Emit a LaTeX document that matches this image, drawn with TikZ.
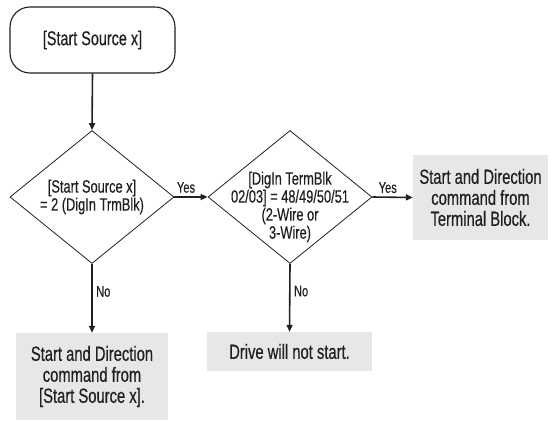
\documentclass[tikz,border=0pt]{standalone}
\usepackage{fontspec}
\setmainfont{Liberation Sans}[FakeStretch=0.72,FakeBold=0.4]
\usepackage{xcolor}
\usepackage{tikz}
\usetikzlibrary{shapes.geometric,arrows.meta}
\definecolor{boxgray}{HTML}{E6E7E8}
\definecolor{inkblack}{HTML}{231F20}

\begin{document}
\begin{tikzpicture}[x=1pt,y=-1pt,inkblack,
    startbox/.style={draw=inkblack,line width=1.1pt,rounded corners=20pt,
      minimum width=165pt,minimum height=66pt,font=\fontsize{20}{22}\selectfont},
    decision/.style={draw=inkblack,line width=0.8pt,diamond,inner sep=0pt,
      minimum width=164pt,minimum height=133pt},
    dtext/.style={align=center,font=\fontsize{17.8}{18}\selectfont},
    result/.style={fill=boxgray,align=center,inner sep=0pt,
      font=\fontsize{20.5}{21}\selectfont},
    flow/.style={line width=1.6pt,-{Triangle[length=7pt,width=6pt]}},
    answer/.style={font=\fontsize{15.5}{16}\selectfont}]
    \useasboundingbox (0,0) rectangle (553,420);
    % Start block
    \node[startbox] (start) at (92.5,40) {[Start Source x]};
    % Decisions
    \node[decision] (srcdec) at (92,197) {};
    \node[dtext] (srctext) at (srcdec) {[Start Source x]\\= 2 (DigIn TrmBlk)};
    \node[decision] (termdec) at (290,197) {};
    \node[dtext] (termtext) at ([yshift=-10pt]termdec.center)
      {[DigIn TermBlk\\02/03] = 48/49/50/51\\(2-Wire or\\3-Wire)};
    % Results
    \node[result,minimum width=152pt,minimum height=87pt] (srcres) at (92,376.5)
      {Start and Direction\\command from\\{[Start Source x].}};
    \node[result,minimum width=165pt,minimum height=39pt] (nostart) at (289.5,351.5)
      {Drive will not start.};
    \node[result,minimum width=135pt,minimum height=85pt] (termres) at (480.5,197.5)
      {Start and Direction\\command from\\Terminal Block.};
    % Connectors
    \draw[flow] (start.south) -- (srcdec.north);
    \draw[flow] (srcdec.east) -- node[answer,above=0pt,pos=0.35] (yesa) {Yes} (termdec.west);
    \draw[flow] (termdec.east) -- node[answer,above=0pt,pos=0.38] (yesb) {Yes} (termres.west);
    \draw[flow] (srcdec.south) -- node[answer,right,pos=0.4] (noa) {No} (srcres.north);
    \draw[flow] (termdec.south) -- node[answer,right,pos=0.4] (nob) {No} (nostart.north);
\end{tikzpicture}
\end{document}
